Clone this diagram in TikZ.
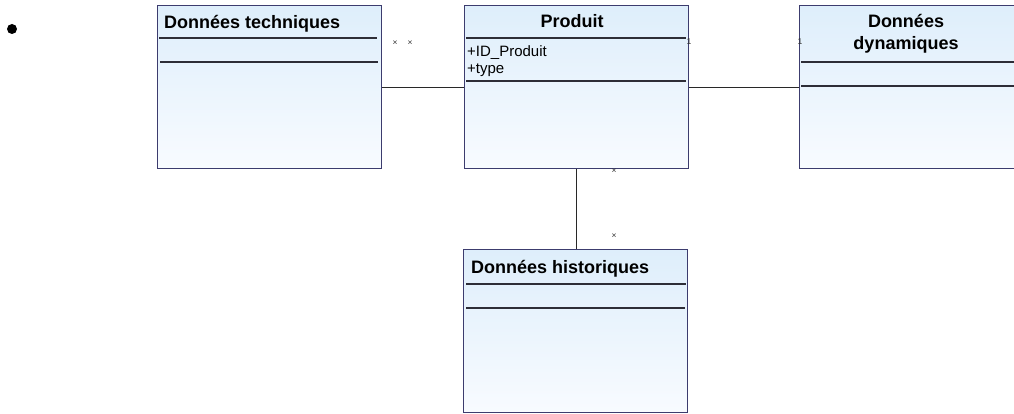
\documentclass[tikz,border=0pt]{standalone}
\usepackage{fontspec}
\setmainfont{Liberation Sans}
\definecolor{boxborder}{RGB}{60,60,110}
\definecolor{fillA}{RGB}{222,238,251}
\definecolor{fillB}{RGB}{248,251,255}
\definecolor{sepcol}{RGB}{45,45,55}
\definecolor{conncol}{RGB}{40,40,40}
\begin{document}
\begin{tikzpicture}[x=1pt,y=-1pt,
  classbox/.style={rectangle, draw=boxborder, line width=1.3pt, top color=fillA, bottom color=fillB,
    minimum width=224pt, minimum height=163pt, inner sep=0pt, anchor=north west},
  titletext/.style={font=\bfseries\fontsize{18}{21}\selectfont, inner sep=0pt},
  attrtext/.style={font=\fontsize{15}{17}\selectfont, inner sep=0pt, anchor=base west},
  sepline/.style={draw=sepcol, line width=1.2pt},
  conn/.style={draw=conncol, line width=1pt},
  mult/.style={font=\fontsize{8.5}{9}\selectfont, inner sep=0pt, text=black!80}]
\useasboundingbox (0,0) rectangle (1014,414);
\clip (0,0) rectangle (1014,414);
\fill[white] (0,0) rectangle (1014,414);

% bullet
\node[circle, fill=black, inner sep=0pt, minimum size=10pt] (bullet) at (12,29) {};

% class boxes
\node[classbox] (dt) at (157,5) {};
\node[classbox] (pr) at (464,5) {};
\node[classbox] (dd) at (799,5) {};
\node[classbox] (dh) at (463,249) {};

% titles
\node[titletext, anchor=base west] (dttitle) at (164,29) {Données techniques};
\node[titletext, anchor=base] (prtitle) at (572,28) {Produit};
\node[titletext, anchor=base] (ddtitle1) at (906,28) {Données};
\node[titletext, anchor=base] (ddtitle2) at (906,50) {dynamiques};
\node[titletext, anchor=base west] (dhtitle) at (471,273) {Données historiques};

% attributes
\node[attrtext] (attr1) at (467,57) {+ID\_Produit};
\node[attrtext] (attr2) at (467,74) {+type};

% compartment separators
\draw[sepline] (159,38) -- (377,38);
\draw[sepline] (160,62) -- (378,62);
\draw[sepline] (466,38) -- (686,38);
\draw[sepline] (466,81) -- (686,81);
\draw[sepline] (801,62) -- (1014,62);
\draw[sepline] (801,86) -- (1014,86);
\draw[sepline] (466,284) -- (686,284);
\draw[sepline] (466,308) -- (685,308);

% connectors
\draw[conn] (dt.east) -- (pr.west);
\draw[conn] (pr.east) -- (dd.west);
\draw[conn] (pr.south) -- (pr.south |- dh.north);

% multiplicities
\node[mult] (m1) at (395,43) {×};
\node[mult] (m2) at (410,43) {×};
\node[mult] (m3) at (689,42) {1};
\node[mult] (m4) at (800,42) {1};
\node[mult] (m5) at (614,171) {×};
\node[mult] (m6) at (614,236) {×};
\end{tikzpicture}
\end{document}
